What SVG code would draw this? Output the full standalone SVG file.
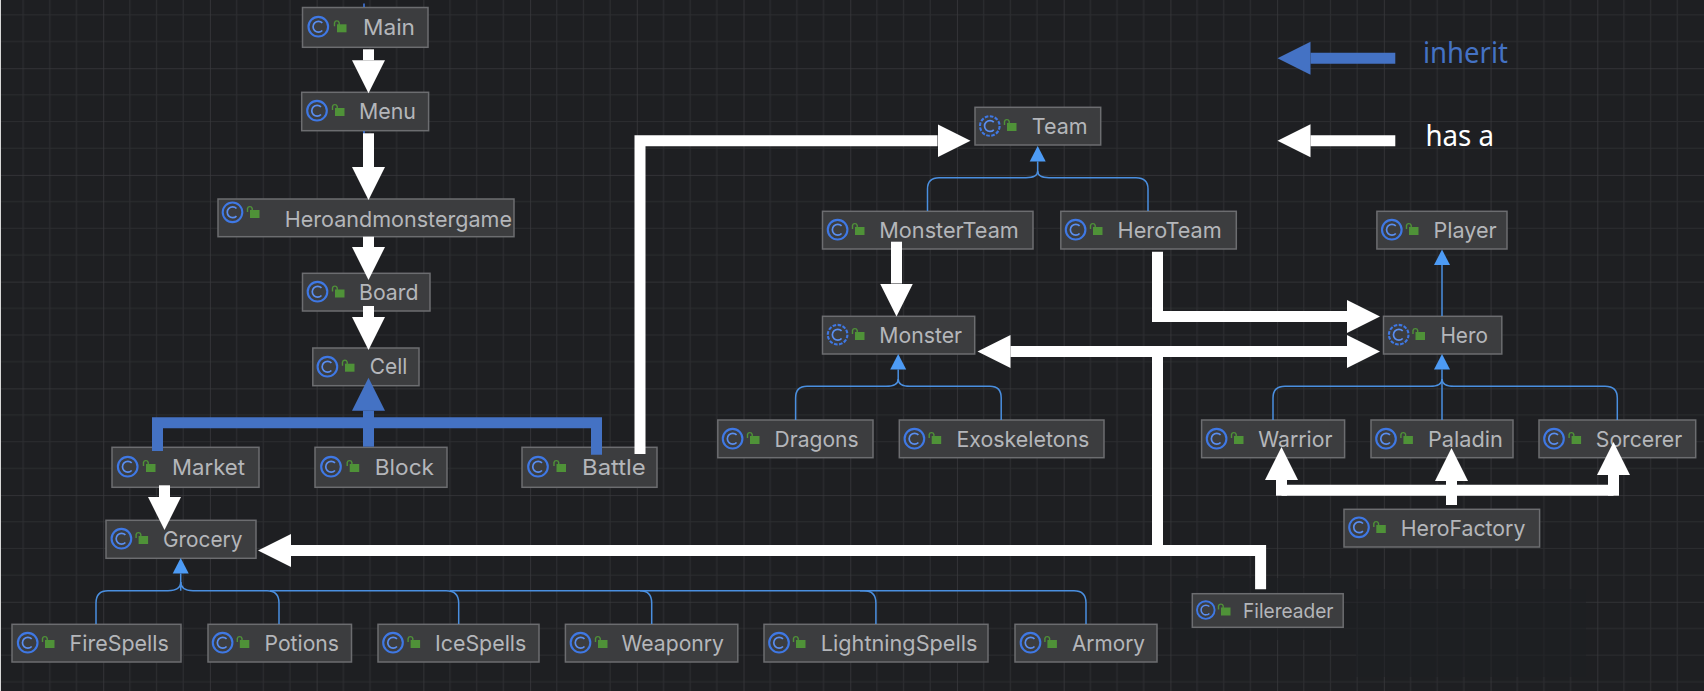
<svg xmlns="http://www.w3.org/2000/svg" width="1704" height="691" viewBox="0 0 1704 691">
<style>
.n{fill:#3c3d3f;stroke:#6c6d70;stroke-width:1.5}
.t{font-family:Inter,"Liberation Sans",sans-serif;font-size:22px;fill:#b4b6ba}
.w{fill:none;stroke:#fff;stroke-width:11;marker-end:url(#hw)}
.wp{fill:none;stroke:#fff;stroke-width:11}
.b{fill:none;stroke:#4472c4;stroke-width:11}
.bh{marker-end:url(#hb)}
.i{fill:none;stroke:#4a8fe0;stroke-width:1.5}
.ih{marker-end:url(#hi)}
.lg{font-family:"Noto Sans","Liberation Sans",sans-serif;font-size:29px}
</style>
<defs>
<pattern id="grid" patternUnits="userSpaceOnUse" x="103.2" y="68.2" width="106.72" height="106.72">
<path d="M26.68 0V106.72M53.36 0V106.72M80.04 0V106.72M0 26.68H106.72M0 53.36H106.72M0 80.04H106.72" fill="none" stroke="#2c2d30" stroke-width="1.2"/>
<path d="M0 0V106.72M0 0H106.72" fill="none" stroke="#37383b" stroke-width="1.6"/>
</pattern>
<marker id="hw" markerUnits="userSpaceOnUse" viewBox="0 0 34 34" markerWidth="34" markerHeight="34" refX="0" refY="17" orient="auto"><path d="M0 .5L33 17L0 33.5Z" fill="#fff"/></marker>
<marker id="hb" markerUnits="userSpaceOnUse" viewBox="0 0 34 34" markerWidth="34" markerHeight="34" refX="0" refY="17" orient="auto"><path d="M0 .5L33 17L0 33.5Z" fill="#4472c4"/></marker>
<marker id="hi" markerUnits="userSpaceOnUse" viewBox="0 0 16 18" markerWidth="16" markerHeight="18" refX="0" refY="9" orient="auto"><path d="M0 1L15.5 9L0 17Z" fill="#4d9bf5"/></marker>
<g id="c"><circle r="9.8" fill="none" stroke="#3f78e4" stroke-width="2.1"/><path d="M4 -3.8A5.4 5.4 0 1 0 4 3.8" fill="none" stroke="#5a8ef0" stroke-width="1.7"/></g>
<g id="ca"><circle r="9.8" fill="none" stroke="#3f78e4" stroke-width="2.1" stroke-dasharray="3.6 1.5"/><path d="M4 -3.8A5.4 5.4 0 1 0 4 3.8" fill="none" stroke="#5a8ef0" stroke-width="1.7"/></g>
<g id="l"><rect x="-3" y="-3" width="9.5" height="8" fill="#4f9238"/><path d="M-5.5 -1V-4.5A2.4 2.4 0 0 1 -0.8 -4.5V-2" fill="none" stroke="#4f9238" stroke-width="1.4"/></g>
</defs>
<rect width="1704" height="691" fill="#1e1f22"/>
<rect width="1704" height="691" fill="url(#grid)"/>
<path d="M1173 578H1356V589H1586V677H1356V640H1173Z" fill="#1e1f22" opacity=".55"/>
<rect x="0" y="0" width="1" height="691" fill="#d8d8d8"/>

<g id="n-Main"><rect class="n" x="302.5" y="7.5" width="125.5" height="39.8"/><use href="#c" x="318.3" y="26.7"/><use href="#l" x="340" y="27.3"/><text class="t" x="363" y="35" textLength="52" lengthAdjust="spacingAndGlyphs">Main</text></g>
<g id="n-Menu"><rect class="n" x="301.7" y="92.3" width="126.9" height="38.4"/><use href="#c" x="317" y="110.7"/><use href="#l" x="338" y="111"/><text class="t" x="359" y="119.3" textLength="57" lengthAdjust="spacingAndGlyphs">Menu</text></g>
<g id="n-Heroandmonstergame"><rect class="n" x="218" y="199" width="296" height="37.7"/><use href="#c" x="232.5" y="212.3"/><use href="#l" x="253" y="213"/><text class="t" x="284.7" y="226.7" textLength="227.3" lengthAdjust="spacingAndGlyphs">Heroandmonstergame</text></g>
<g id="n-Board"><rect class="n" x="302.5" y="273.3" width="127.5" height="37.7"/><use href="#c" x="317.5" y="291.7"/><use href="#l" x="338" y="292.5"/><text class="t" x="359" y="300" textLength="59.4" lengthAdjust="spacingAndGlyphs">Board</text></g>
<g id="n-Cell"><rect class="n" x="312.8" y="348" width="106.2" height="37.7"/><use href="#c" x="327.4" y="366.7"/><use href="#l" x="348" y="366.7"/><text class="t" x="369.7" y="374.3" textLength="37.6" lengthAdjust="spacingAndGlyphs">Cell</text></g>
<g id="n-Market"><rect class="n" x="112" y="447.3" width="147" height="40"/><use href="#c" x="127.7" y="466.7"/><use href="#l" x="149" y="467"/><text class="t" x="172" y="475.3" textLength="73" lengthAdjust="spacingAndGlyphs">Market</text></g>
<g id="n-Block"><rect class="n" x="315" y="447.3" width="132" height="40"/><use href="#c" x="331" y="466.7"/><use href="#l" x="352.7" y="467"/><text class="t" x="374.8" y="475.3" textLength="59.2" lengthAdjust="spacingAndGlyphs">Block</text></g>
<g id="n-Battle"><rect class="n" x="522" y="447.3" width="135" height="40"/><use href="#c" x="538" y="466.7"/><use href="#l" x="559.5" y="467"/><text class="t" x="582" y="475.3" textLength="63.8" lengthAdjust="spacingAndGlyphs">Battle</text></g>
<g id="n-Grocery"><rect class="n" x="106" y="520.3" width="150" height="38"/><use href="#c" x="121.4" y="538.7"/><use href="#l" x="141.6" y="539"/><text class="t" x="163" y="546.7" textLength="79.4" lengthAdjust="spacingAndGlyphs">Grocery</text></g>
<g id="n-FireSpells"><rect class="n" x="12" y="624.3" width="169" height="37.7"/><use href="#c" x="27.7" y="642.7"/><use href="#l" x="48" y="643"/><text class="t" x="69.6" y="650.7" textLength="99.2" lengthAdjust="spacingAndGlyphs">FireSpells</text></g>
<g id="n-Potions"><rect class="n" x="208" y="624.3" width="143.5" height="37.7"/><use href="#c" x="222.6" y="642.7"/><use href="#l" x="242.8" y="643"/><text class="t" x="264.5" y="650.7" textLength="74.5" lengthAdjust="spacingAndGlyphs">Potions</text></g>
<g id="n-IceSpells"><rect class="n" x="378" y="624.3" width="161" height="37.7"/><use href="#c" x="393" y="642.7"/><use href="#l" x="413.6" y="643"/><text class="t" x="435" y="650.7" textLength="91.3" lengthAdjust="spacingAndGlyphs">IceSpells</text></g>
<g id="n-Weaponry"><rect class="n" x="565.4" y="624.3" width="172.4" height="37.7"/><use href="#c" x="580.5" y="642.7"/><use href="#l" x="601" y="643"/><text class="t" x="621.6" y="650.7" textLength="102.4" lengthAdjust="spacingAndGlyphs">Weaponry</text></g>
<g id="n-LightningSpells"><rect class="n" x="764" y="624.3" width="224" height="37.7"/><use href="#c" x="779" y="642.7"/><use href="#l" x="799" y="643"/><text class="t" x="820.8" y="650.7" textLength="156.6" lengthAdjust="spacingAndGlyphs">LightningSpells</text></g>
<g id="n-Armory"><rect class="n" x="1015" y="624.3" width="142" height="37.7"/><use href="#c" x="1030.5" y="642.7"/><use href="#l" x="1050.4" y="643"/><text class="t" x="1072" y="650.7" textLength="73" lengthAdjust="spacingAndGlyphs">Armory</text></g>
<g id="n-Team"><rect class="n" x="975" y="107.3" width="125.7" height="37.7"/><use href="#ca" x="989.8" y="126"/><use href="#l" x="1010" y="126"/><text class="t" x="1031.8" y="134" textLength="55.8" lengthAdjust="spacingAndGlyphs">Team</text></g>
<g id="n-MonsterTeam"><rect class="n" x="822.5" y="211.3" width="210.5" height="37.7"/><use href="#c" x="837.6" y="229.7"/><use href="#l" x="858" y="230"/><text class="t" x="879.3" y="238" textLength="139.5" lengthAdjust="spacingAndGlyphs">MonsterTeam</text></g>
<g id="n-HeroTeam"><rect class="n" x="1060.8" y="211.3" width="175.5" height="37.7"/><use href="#c" x="1075.6" y="229.7"/><use href="#l" x="1096" y="230"/><text class="t" x="1117.6" y="238" textLength="104.2" lengthAdjust="spacingAndGlyphs">HeroTeam</text></g>
<g id="n-Player"><rect class="n" x="1376.9" y="211.3" width="130.1" height="37.7"/><use href="#c" x="1391.8" y="229.7"/><use href="#l" x="1412" y="230"/><text class="t" x="1433.4" y="238" textLength="63.2" lengthAdjust="spacingAndGlyphs">Player</text></g>
<g id="n-Monster"><rect class="n" x="822.5" y="316.3" width="152.2" height="37.7"/><use href="#ca" x="837.6" y="334.7"/><use href="#l" x="858" y="335"/><text class="t" x="879.3" y="342.7" textLength="82.7" lengthAdjust="spacingAndGlyphs">Monster</text></g>
<g id="n-Hero"><rect class="n" x="1383.5" y="316.3" width="118.3" height="37.7"/><use href="#ca" x="1398.7" y="334.7"/><use href="#l" x="1418.5" y="335"/><text class="t" x="1440.4" y="342.7" textLength="47.6" lengthAdjust="spacingAndGlyphs">Hero</text></g>
<g id="n-Dragons"><rect class="n" x="717.8" y="420" width="155.2" height="37.7"/><use href="#c" x="732.6" y="438.7"/><use href="#l" x="753" y="439"/><text class="t" x="774.6" y="446.7" textLength="84" lengthAdjust="spacingAndGlyphs">Dragons</text></g>
<g id="n-Exoskeletons"><rect class="n" x="899.3" y="420" width="204.7" height="37.7"/><use href="#c" x="914.4" y="438.7"/><use href="#l" x="934.7" y="439"/><text class="t" x="956.4" y="446.7" textLength="133" lengthAdjust="spacingAndGlyphs">Exoskeletons</text></g>
<g id="n-Warrior"><rect class="n" x="1201.6" y="420" width="143" height="37.7"/><use href="#c" x="1216.6" y="438.7"/><use href="#l" x="1237" y="439"/><text class="t" x="1258.2" y="446.7" textLength="74.2" lengthAdjust="spacingAndGlyphs">Warrior</text></g>
<g id="n-Paladin"><rect class="n" x="1371" y="420" width="142" height="37.7"/><use href="#c" x="1386" y="438.7"/><use href="#l" x="1406.4" y="439"/><text class="t" x="1427.9" y="446.7" textLength="74.9" lengthAdjust="spacingAndGlyphs">Paladin</text></g>
<g id="n-Sorcerer"><rect class="n" x="1539" y="420" width="156.7" height="37.7"/><use href="#c" x="1554" y="438.7"/><use href="#l" x="1574.6" y="439"/><text class="t" x="1595.8" y="446.7" textLength="86.4" lengthAdjust="spacingAndGlyphs">Sorcerer</text></g>
<g id="n-HeroFactory"><rect class="n" x="1344" y="509.3" width="195.6" height="37.7"/><use href="#c" x="1359" y="527.3"/><use href="#l" x="1379.3" y="528"/><text class="t" x="1400.8" y="535.7" textLength="124.6" lengthAdjust="spacingAndGlyphs">HeroFactory</text></g>
<g id="n-Filereader"><rect class="n" x="1192.3" y="593.7" width="150.9" height="33.6"/><use href="#c" x="1205.8" y="610" transform="translate(1205.8 610) scale(.9) translate(-1205.8 -610)"/><use href="#l" x="1224" y="610.5"/><text class="t" x="1243" y="617.7" textLength="90.5" lengthAdjust="spacingAndGlyphs" style="font-size:20px">Filereader</text></g>

<g id="connectors">
<g id="inherit-thin">
<path class="i ih" d="M927.5 211V189Q927.5 177.7 939 177.7H1026Q1037.7 177.7 1037.7 171V161.5"/>
<path class="i" d="M1148 211V189Q1148 177.7 1136 177.7H1049Q1037.7 177.7 1037.7 171"/>
<path class="i ih" d="M795.6 420V398Q795.6 386.3 807 386.3H886Q898.2 386.3 898.2 379V369.5"/>
<path class="i" d="M1001.2 420V398Q1001.2 386.3 990 386.3H910Q898.2 386.3 898.2 379"/>
<path class="i ih" d="M1442 316V265"/>
<path class="i ih" d="M1442 420V369.5"/>
<path class="i" d="M1273 420V398Q1273 386.3 1285 386.3H1430Q1442 386.3 1442 379"/>
<path class="i" d="M1617.3 420V398Q1617.3 386.3 1605 386.3H1454Q1442 386.3 1442 379"/>
<path class="i ih" d="M180.7 590.7V573.5"/>
<path class="i" d="M96 624V603Q96 590.7 108 590.7H168Q180.7 590.7 180.7 582"/>
<path class="i" d="M279 624V603Q279 590.7 267 590.7H193Q180.7 590.7 180.7 582"/>
<path class="i" d="M458.7 624V603Q458.7 590.7 446 590.7H270"/>
<path class="i" d="M651.7 624V603Q651.7 590.7 640 590.7H450"/>
<path class="i" d="M875.9 624V603Q875.9 590.7 864 590.7H640"/>
<path class="i" d="M1086 624V603Q1086 590.7 1074 590.7H860"/>
<path d="M364 3.5V7M364 131V134" fill="none" stroke="#3f75dc" stroke-width="1.6"/>
</g>
<g id="inherit-thick">
<path class="b bh" d="M368.5 446.7V410.7"/>
<path class="b" d="M157.5 451V422.7H596.5V454.7"/>
</g>
<g id="has-a">
<path class="w" d="M368.5 49.3V60.2"/>
<path class="w" d="M368.5 133.3V167"/>
<path class="w" d="M368.5 236.7V247"/>
<path class="w" d="M368.5 306V317"/>
<path class="w" d="M164.5 485.3V497"/>
<path class="w" d="M1260.6 589.3V550.5H291"/>
<path class="w" d="M640 454V140.7H937.5"/>
<path class="w" d="M896.5 241.7V283.5"/>
<path class="w" d="M1157.5 251.7V316.5H1347"/>
<path class="w" d="M1157.5 550V351.5H1010.5"/>
<path class="w" d="M1157.5 351.5H1347"/>
<path class="wp" d="M1281.5 490.3H1613.5"/>
<path class="w" d="M1281.5 495.7V480"/>
<path class="w" d="M1451.5 505V481"/>
<path class="w" d="M1613.5 495.7V475"/>
</g>
</g>

<g id="legend">
<path class="b bh" d="M1395.3 58.3H1310.5"/>
<text class="lg" x="1423" y="62.7" fill="#4472c4" textLength="85" lengthAdjust="spacingAndGlyphs">inherit</text>
<path class="w" d="M1395.3 140.7H1310.5"/>
<text class="lg" x="1425.4" y="146" fill="#fff" textLength="68.6" lengthAdjust="spacingAndGlyphs">has a</text>
</g>
</svg>
